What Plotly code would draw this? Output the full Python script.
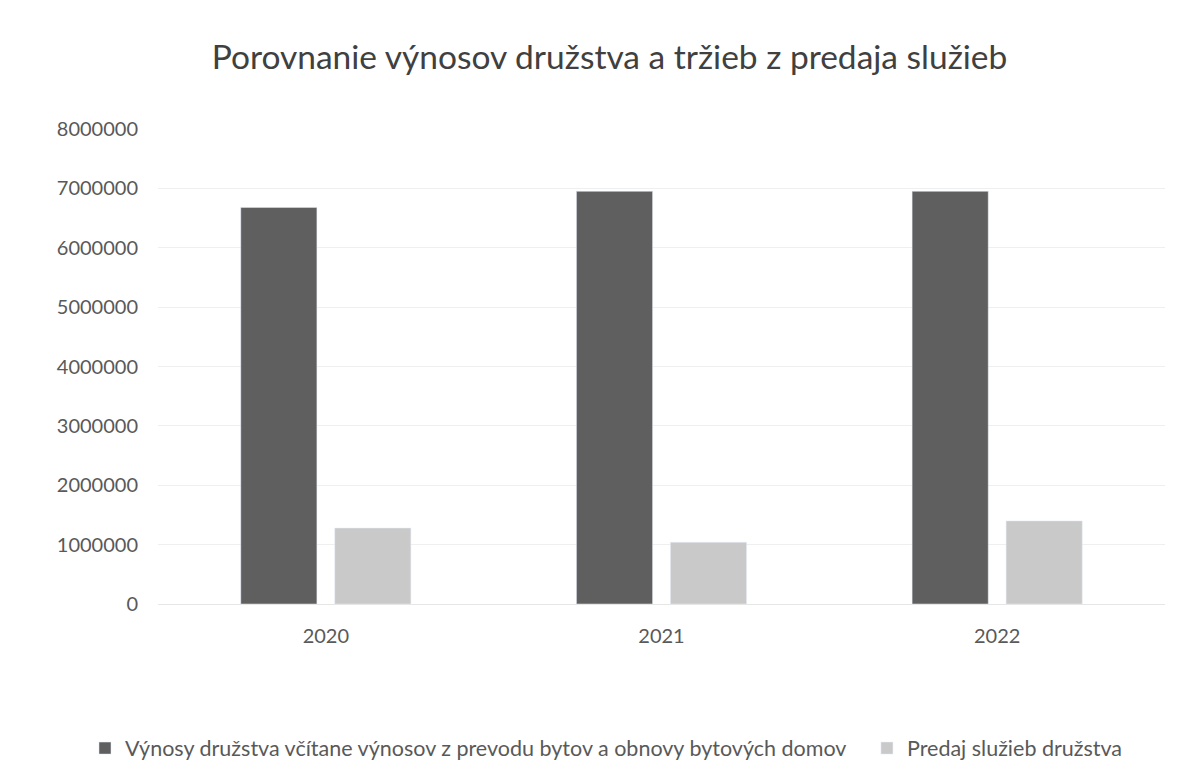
import plotly.graph_objects as go

years = ["2020", "2021", "2022"]
vynosy = [6680000, 6950000, 6950000]
predaj = [1280000, 1040000, 1400000]
series_names = [
    "Výnosy družstva včítane výnosov z prevodu bytov a obnovy bytových domov",
    "Predaj služieb družstva",
]
tick_vals = [0, 1000000, 2000000, 3000000, 4000000, 5000000, 6000000, 7000000, 8000000]
tick_text = [str(v) for v in tick_vals]

fig = go.Figure()
fig.add_trace(go.Bar(x=years, y=vynosy, name=series_names[0], marker_color="#5f5f5f",
                     legend="legend"))
fig.add_trace(go.Bar(x=years, y=predaj, name=series_names[1], marker_color="#c9c9c9",
                     legend="legend2"))

legend_common = dict(orientation="h", xref="container", yref="container",
                     xanchor="left", y=0.056, yanchor="middle",
                     font=dict(size=21.5, color="#595959"), itemwidth=30)

fig.update_layout(
    width=1203, height=784,
    paper_bgcolor="white", plot_bgcolor="white",
    font=dict(family="Lato, 'Open Sans', sans-serif", color="#595959", size=20),
    title=dict(text="Porovnanie výnosov družstva a tržieb z predaja služieb",
               x=0.5, xanchor="center", y=0.9375, yanchor="middle",
               font=dict(size=33.5, color="#404040")),
    margin=dict(l=150, r=46, t=121, b=188, autoexpand=False),
    barmode="group", bargap=0.44, bargroupgap=0.19,
    showlegend=True,
    legend=dict(x=0.064, **legend_common),
    legend2=dict(x=0.714, **legend_common),
    xaxis=dict(showgrid=False, showline=True, linecolor="#e6e6e6", ticks="",
               ticklabelstandoff=14, tickfont=dict(size=20)),
    yaxis=dict(range=[0, 8000000], tickvals=tick_vals, ticktext=tick_text,
               showgrid=True, gridcolor="#efefef", zeroline=False, ticks="",
               ticklabelstandoff=19, tickfont=dict(size=20)),
)

fig.write_html("out.html")
